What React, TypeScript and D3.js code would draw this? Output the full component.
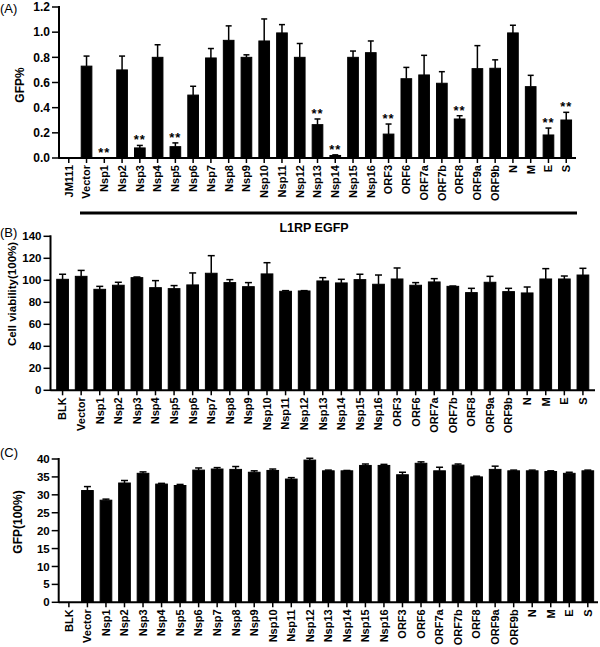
import React from 'react';
import * as d3 from 'd3';

const catsA = ['JM111','Vector','Nsp1','Nsp2','Nsp3','Nsp4','Nsp5','Nsp6','Nsp7','Nsp8','Nsp9','Nsp10','Nsp11','Nsp12','Nsp13','Nsp14','Nsp15','Nsp16','ORF3','ORF6','ORF7a','ORF7b','ORF8','ORF9a','ORF9b','N','M','E','S'];
const catsBC = ['BLK','Vector','Nsp1','Nsp2','Nsp3','Nsp4','Nsp5','Nsp6','Nsp7','Nsp8','Nsp9','Nsp10','Nsp11','Nsp12','Nsp13','Nsp14','Nsp15','Nsp16','ORF3','ORF6','ORF7a','ORF7b','ORF8','ORF9a','ORF9b','N','M','E','S'];

const gfpA = [0,0.73,0,0.70,0.08,0.80,0.09,0.50,0.795,0.935,0.80,0.93,0.994,0.80,0.265,0.02,0.80,0.837,0.19,0.63,0.66,0.594,0.31,0.71,0.713,0.994,0.567,0.183,0.302];
const gfpAErr = [0,0.08,0,0.11,0.02,0.10,0.03,0.07,0.075,0.115,0.02,0.175,0.066,0.11,0.045,0.005,0.05,0.093,0.08,0.09,0.156,0.092,0.026,0.183,0.067,0.061,0.09,0.055,0.061];
const sigA = ['Nsp1','Nsp3','Nsp5','Nsp13','Nsp14','ORF3','ORF8','E','S'];

const viabB = [100.9,103.6,91.8,95.5,102.4,93.3,92.4,95.8,106.4,97.9,94.2,105.8,90,90.3,99.4,97.6,100.6,96.4,101.2,95.5,98.5,94.5,88.8,98.2,89.7,88.5,101.2,101.2,104.8];
const viabBErr = [4.6,5.4,2.7,2.7,0.6,6.4,2.8,10.9,16,2.7,3.7,10.2,0.6,0.3,3,3.3,4.9,8.4,10,2.4,3,0.3,3.9,5.4,3,5.4,9.4,2.7,6.1];

const gfpC = [0,31.2,28.5,33.3,36.0,33.0,32.6,36.9,37.2,37.1,36.3,36.8,34.4,39.7,36.7,36.7,38.2,38.2,35.6,38.8,36.7,38.3,35.0,37.1,36.7,36.7,36.5,36.0,36.7];
const gfpCErr = [0,1.1,0.3,0.7,0.4,0.2,0.3,0.6,0.4,0.8,0.4,0.4,0.4,0.5,0.2,0.1,0.4,0.3,0.7,0.4,1.0,0.3,0.2,0.9,0.2,0.2,0.2,0.3,0.2];

const ticksA = [0,0.2,0.4,0.6,0.8,1.0,1.2];
const ticksB = [0,20,40,60,80,100,120,140];
const ticksC = [0,5,10,15,20,25,30,35,40];

const FONT = '"Liberation Sans", Arial, sans-serif';

type PanelProps = {
  cats: string[]; vals: number[]; errs: number[];
  x0: number; x1: number; y0: number; y1: number; ymax: number; ticks: number[];
  fmt: (v: number) => string; pad: number; barFrac: number; capW: number;
  title: string; titleX: number; titleY: number; titleFont: number; label: string; labelY: number;
  tickFont: number; catFont: number; sig?: string[];
};

function Panel(p: PanelProps) {
  const x = d3.scalePoint<string>().domain(p.cats).range([p.x0, p.x1]).padding(p.pad);
  const y = d3.scaleLinear().domain([0, p.ymax]).range([p.y0, p.y1]);
  const bw = x.step() * p.barFrac;
  return (
    <g fontFamily={FONT}>
      {p.cats.map((c, i) => {
        const cx = x(c)!;
        const v = p.vals[i];
        const e = p.errs[i];
        const sy = y(v + e) - 1;
        return (
          <g key={c}>
            {v > 0 && (
              <rect x={cx - bw / 2} y={y(v)} width={bw} height={p.y0 - y(v)} fill="#000" stroke="#000" strokeWidth={1} />
            )}
            {e > 0 && (
              <g stroke="#000" strokeWidth={1.5}>
                <line x1={cx} x2={cx} y1={y(v)} y2={y(v + e)} />
                <line x1={cx - p.capW / 2} x2={cx + p.capW / 2} y1={y(v + e)} y2={y(v + e)} />
              </g>
            )}
            {p.sig && p.sig.includes(c) && (
              <text x={cx} y={sy} textAnchor="middle" fontSize={13} fontWeight="bold" letterSpacing={1} fill="#000">**</text>
            )}
            <line x1={cx} x2={cx} y1={p.y0} y2={p.y0 + 5} stroke="#000" strokeWidth={1.5} />
            <text transform={`translate(${cx},${p.y0 + 7}) rotate(-90)`} textAnchor="end" dy="0.35em" fontSize={p.catFont} fontWeight="bold" fill="#000">{c}</text>
          </g>
        );
      })}
      <line x1={p.x0} x2={p.x0} y1={p.y0 + 0.75} y2={y(p.ymax) - 1} stroke="#000" strokeWidth={2} />
      <line x1={p.x0} x2={p.x1} y1={p.y0} y2={p.y0} stroke="#000" strokeWidth={2} />
      {p.ticks.map((t) => (
        <g key={t}>
          <line x1={p.x0 - 7} x2={p.x0} y1={y(t)} y2={y(t)} stroke="#000" strokeWidth={1.5} />
          <text x={p.x0 - 9} y={y(t)} dy="0.35em" textAnchor="end" fontSize={p.tickFont} fontWeight="bold" fill="#000">{p.fmt(t)}</text>
        </g>
      ))}
      <text transform={`translate(${p.titleX},${p.titleY}) rotate(-90)`} textAnchor="middle" dy="0.35em" fontSize={p.titleFont} fontWeight="bold" fill="#000">{p.title}</text>
      <text x={0} y={p.labelY} fontSize={13} fill="#000">{p.label}</text>
    </g>
  );
}

export default function App() {
  return (
    <svg width={600} height={647} style={{ position: 'absolute', left: 0, top: 0, background: '#fff' }}>
      <Panel cats={catsA} vals={gfpA} errs={gfpAErr} x0={59} x1={576} y0={158} y1={7} ymax={1.2}
        ticks={ticksA} fmt={d3.format('.1f')} pad={0.55} barFrac={0.6} capW={6}
        title="GFP%" titleX={20} titleY={85} titleFont={12} label="(A)" labelY={13} tickFont={12} catFont={11} sig={sigA} />
      <line x1={80} x2={577} y1={213} y2={213} stroke="#000" strokeWidth={3} />
      <text x={314} y={232} textAnchor="middle" fontFamily={FONT} fontSize={12.5} fontWeight="bold">L1RP EGFP</text>
      <Panel cats={catsBC} vals={viabB} errs={viabBErr} x0={50.5} x1={595} y0={390.3} y1={236.3} ymax={140}
        ticks={ticksB} fmt={d3.format('d')} pad={0.65} barFrac={0.63} capW={7}
        title="Cell viability(100%)" titleX={12} titleY={294} titleFont={11.5} label="(B)" labelY={237} tickFont={11.5} catFont={11} />
      <Panel cats={catsBC} vals={gfpC} errs={gfpCErr} x0={58.7} x1={598} y0={602.3} y1={459} ymax={40}
        ticks={ticksC} fmt={d3.format('d')} pad={0.55} barFrac={0.63} capW={7}
        title="GFP(100%)" titleX={18} titleY={522} titleFont={12} label="(C)" labelY={457} tickFont={11.5} catFont={11} />
    </svg>
  );
}
